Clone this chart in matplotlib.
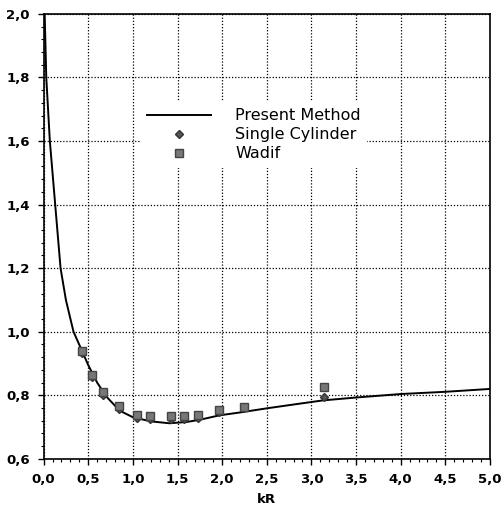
import matplotlib
matplotlib.use("Agg")
import matplotlib.pyplot as plt
from matplotlib.ticker import MultipleLocator, FuncFormatter

# present method curve
kr_curve = [0.012, 0.03, 0.07, 0.13, 0.16, 0.19, 0.25, 0.335, 0.43, 0.5, 0.6,
            0.7, 0.85, 1.0, 1.2, 1.41, 1.6, 1.75, 1.97, 2.2, 2.5, 2.8, 3.13,
            3.5, 4.0, 4.5, 5.0]
val_curve = [2.0, 1.8, 1.6, 1.4, 1.3, 1.2, 1.1, 1.0, 0.94, 0.895, 0.84,
             0.797, 0.752, 0.731, 0.718, 0.712, 0.716, 0.723, 0.737, 0.746,
             0.759, 0.771, 0.784, 0.793, 0.804, 0.811, 0.82]

# single cylinder
kr_single = [0.43, 0.54, 0.67, 0.85, 1.045, 1.19, 1.43, 1.57, 1.735, 1.97, 3.145]
val_single = [0.932, 0.857, 0.802, 0.758, 0.729, 0.727, 0.727, 0.727, 0.729,
              0.748, 0.794]

# Wadif
kr_wadif = [0.43, 0.54, 0.67, 0.85, 1.045, 1.19, 1.43, 1.57, 1.735, 1.97,
            2.24, 3.145]
val_wadif = [0.94, 0.865, 0.81, 0.766, 0.737, 0.735, 0.735, 0.735, 0.737,
             0.755, 0.762, 0.826]

plt.rcParams['font.family'] = ['DejaVu Sans']

fig = plt.figure(figsize=(5.01, 5.11), dpi=100)
ax = fig.add_axes([0.087, 0.102, 0.891, 0.871])

ax.plot(kr_curve, val_curve, color="black", lw=1.4, label="Present Method", zorder=3)
ax.plot(kr_single, val_single, ls="none", marker="D", ms=4.5, mfc="#555555",
        mec="#333333", label="Single Cylinder", zorder=4)
ax.plot(kr_wadif, val_wadif, ls="none", marker="s", ms=6, mfc="#777777",
        mec="#444444", label="Wadif", zorder=5)

ax.set_xlim(0, 5)
ax.set_ylim(0.6, 2.0)
ax.xaxis.set_major_locator(MultipleLocator(0.5))
ax.xaxis.set_minor_locator(MultipleLocator(0.1))
ax.yaxis.set_major_locator(MultipleLocator(0.2))
ax.yaxis.set_minor_locator(MultipleLocator(0.04))
comma = FuncFormatter(lambda v, p: f"{v:.1f}".replace(".", ","))
ax.xaxis.set_major_formatter(comma)
ax.yaxis.set_major_formatter(comma)

ax.tick_params(which="major", direction="out", length=4, width=1,
               labelsize=9.5, pad=6)
ax.tick_params(which="minor", direction="out", length=2.5, width=0.8)
for lab in ax.get_xticklabels() + ax.get_yticklabels():
    lab.set_fontweight("bold")

ax.grid(True, which="major", color="black", ls=(0, (1, 1.5)), lw=0.9)
for s in ax.spines.values():
    s.set_linewidth(1.2)

ax.set_xlabel("kR", fontsize=9.5, fontweight="bold", labelpad=5)

leg = ax.legend(loc="upper left", bbox_to_anchor=(0.2, 0.82), frameon=True,
                fontsize=11.5, handlelength=4.0, handletextpad=1.5,
                labelspacing=0.25, borderpad=0.4)
leg.get_frame().set_edgecolor("none")
leg.get_frame().set_facecolor("white")
leg.get_frame().set_alpha(1)

fig.savefig("out.png", dpi=100)
